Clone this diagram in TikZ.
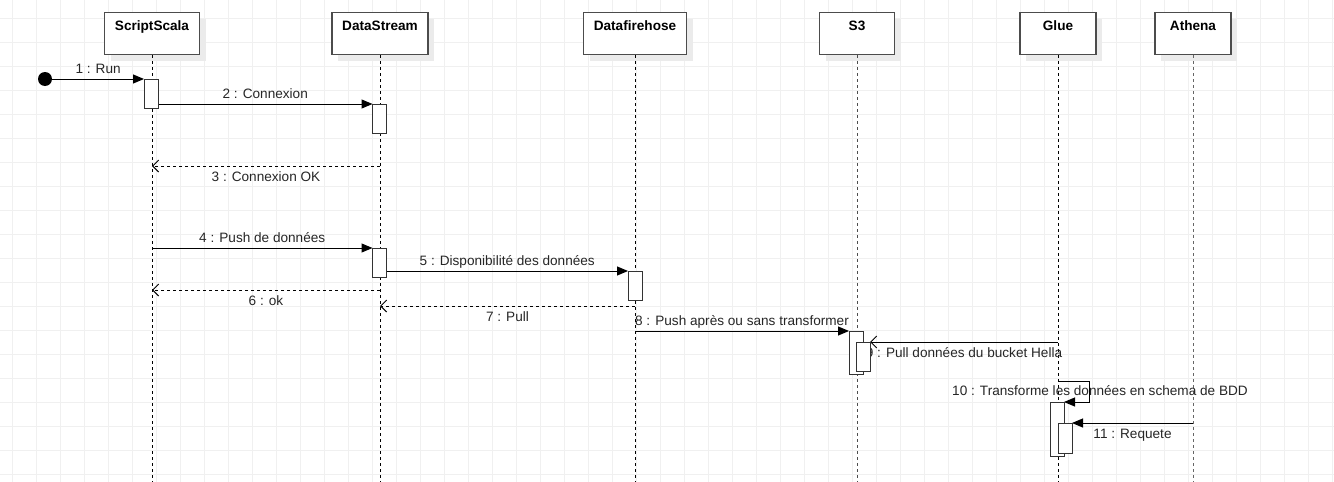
\documentclass[tikz,border=0pt]{standalone}
\usepackage{fontspec}
\setmainfont{Liberation Sans}
\usetikzlibrary{arrows.meta,shadows}

\newcommand{\lblfont}{\fontsize{13.6pt}{16pt}\selectfont}

\begin{document}
\begin{tikzpicture}[x=1pt,y=-1pt,
  head/.style={draw=black!70, line width=1.2pt, fill=white, inner sep=0pt,
    text height=18pt, text depth=24pt, font=\lblfont\bfseries, anchor=north,
    drop shadow={shadow xshift=6pt, shadow yshift=-6pt, fill=black!8, opacity=1}},
  life/.style={line width=1pt, dash pattern=on 3pt off 3pt},
  act/.style={draw=black!80, line width=1pt, fill=white, minimum width=14pt,
    inner sep=0pt, anchor=north},
  msg/.style={line width=1pt, -{Triangle[length=11pt,width=9pt]}},
  reply/.style={line width=1pt, dash pattern=on 3pt off 3pt,
    -{Straight Barb[length=6pt,width=12pt]}},
  back/.style={line width=1pt, -{Straight Barb[length=6pt,width=12pt]}},
  lbl/.style={font=\lblfont, text=black!85, inner sep=0pt, anchor=base},
  lblup/.style={lbl, yshift=6pt},
  lbldown/.style={lbl, yshift=-15pt}]

  \useasboundingbox (0,0) rectangle (1334,482);
  \fill[white] (0,0) rectangle (1334,482);
  % grid
  \foreach \x in {0,...,55}
    \draw[black!6] (12+24*\x,0) -- (12+24*\x,482);
  \foreach \y in {0,...,20}
    \draw[black!6] (0,18.5+24*\y) -- (1334,18.5+24*\y);

  % lifeline heads
  \node[head, minimum width=95pt]  (ss) at (152,12) {ScriptScala};
  \node[head, minimum width=96pt]  (ds) at (380,12) {DataStream};
  \node[head, minimum width=103pt] (df) at (635,12) {Datafirehose};
  \node[head, minimum width=75pt]  (s3) at (857,12) {S3};
  \node[head, minimum width=76pt]  (gl) at (1058,12) {Glue};
  \node[head, minimum width=76pt]  (at) at (1193,12) {Athena};
  \coordinate (bot) at (0,482);

  \draw[life] (ss.south) -- (ss.south |- bot);
  \draw[life] (ds.south) -- (ds.south |- bot);
  \draw[life] (df.south) -- (df.south |- bot);
  \draw[life, black!70] (s3.south) -- (s3.south |- bot);
  \draw[life] (gl.south) -- (gl.south |- bot);
  \draw[life, black!60] (at.south) -- (at.south |- bot);

  % start
  \node[circle, fill=black, minimum size=14pt, inner sep=0pt] (start) at (45,79) {};

  % activations (positions)
  \coordinate (run)    at (151,79);
  \coordinate (conn)   at (379.5,104);
  \coordinate (push)   at (379.5,248);
  \coordinate (dispo)  at (635,271);
  \coordinate (store)  at (856,331);
  \coordinate (pull)   at (863,342);
  \coordinate (trans)  at (1057,402);
  \coordinate (req)    at (1065,423);

  % messages
  \draw[msg] (start) -- ([xshift=-7pt]run)
    node[lblup, midway] (l1) {1 : Run};
  \draw[msg] ([xshift=7pt]run |- conn) -- ([xshift=-7pt]conn)
    node[lblup, midway] (l2) {2 : Connexion};
  \draw[reply] (ds.south |- 0,166) -- (ss.south |- 0,166)
    node[lbldown, midway] (l3) {3 : Connexion OK};
  \draw[msg] (ss.south |- push) -- ([xshift=-7pt]push)
    node[lblup, midway] (l4) {4 : Push de données};
  \draw[msg] ([xshift=7pt]push |- dispo) -- ([xshift=-7pt]dispo)
    node[lblup, midway] (l5) {5 : Disponibilité des données};
  \draw[reply] (ds.south |- 0,290) -- (ss.south |- 0,290)
    node[lbldown, midway] (l6) {6 : ok};
  \draw[reply] (df.south |- 0,306) -- (ds.south |- 0,306)
    node[lbldown, midway] (l7) {7 : Pull};
  \draw[msg] (df.south |- store) -- ([xshift=-7pt]store)
    node[lblup, midway] (l8) {8 : Push après ou sans transformer};
  \draw[back] (gl.south |- pull) -- ([xshift=7pt]pull)
    node[lbldown, midway] (l9) {9 : Pull données du bucket Hella};
  \draw[msg] (gl.south |- 0,381) -- ++(31,0) |- ([xshift=7pt]trans);
  \node[lbl] (l10) at (1100,395) {10 : Transforme les données en schema de BDD};
  \draw[msg] (at.south |- req) -- ([xshift=7pt]req)
    node[lbldown, midway] (l11) {11 : Requete};

  % activation boxes
  \node[act, minimum height=29pt] (a1) at (run) {};
  \node[act, minimum height=29pt] (a2) at (conn) {};
  \node[act, minimum height=29pt] (a4) at (push) {};
  \node[act, minimum height=29pt] (a5) at (dispo) {};
  \node[act, minimum height=43pt] (a8) at (store) {};
  \node[act, minimum height=29pt] (a9) at (pull) {};
  \node[act, minimum height=54pt] (a10) at (trans) {};
  \node[act, minimum height=30pt] (a11) at (req) {};
\end{tikzpicture}
\end{document}
